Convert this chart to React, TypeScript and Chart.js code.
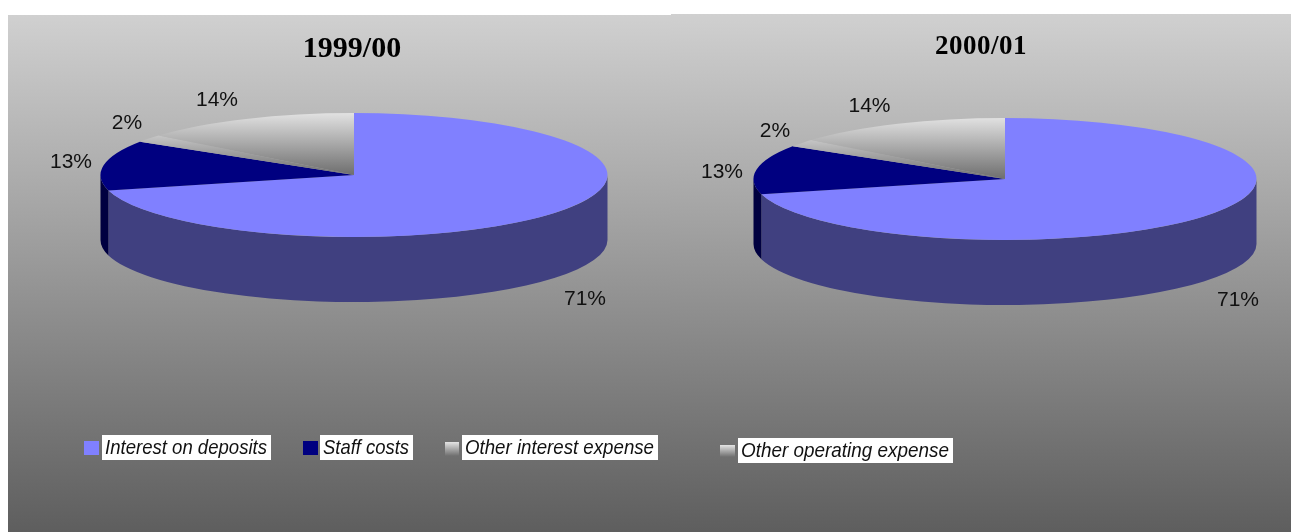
import React, { useEffect, useRef } from "react";
import { Chart, registerables } from "chart.js";

Chart.register(...registerables);

const categories = [
  "Interest on deposits",
  "Staff costs",
  "Other interest expense",
  "Other operating expense",
];
const shares1999 = [71, 13, 2, 14];
const shares2000 = [71, 13, 2, 14];

const topColors = ["#8080ff", "#000080", null, null];
const wallColors = ["#404080", "#000040", "#606060", "#606060"];

type Panel = {
  title: string;
  values: number[];
  left: number;
  top: number;
  width: number;
  height: number;
  cx: number;
  cy: number;
  rx: number;
  ry: number;
  depth: number;
  titleX: number;
  titleY: number;
  titleFont: string;
  titleSpacing: string;
  labelAt: [number, number][];
  legend: { index: number; swatch: number[]; box: number[] }[];
};

const panels: Panel[] = [
  {
    title: "1999/00",
    values: shares1999,
    left: 8,
    top: 15,
    width: 663,
    height: 517,
    cx: 354,
    cy: 175,
    rx: 253.5,
    ry: 62,
    depth: 65,
    titleX: 352,
    titleY: 57,
    titleFont: "bold 30px 'Liberation Serif'",
    titleSpacing: "0px",
    labelAt: [
      [585, 299],
      [71, 162],
      [127, 123],
      [217, 100],
    ],
    legend: [
      { index: 0, swatch: [84, 441, 15, 14], box: [102, 435, 169, 25] },
      { index: 1, swatch: [303, 441, 15, 14], box: [320, 435, 93, 25] },
      { index: 2, swatch: [445, 442, 14, 14], box: [462, 435, 196, 25] },
    ],
  },
  {
    title: "2000/01",
    values: shares2000,
    left: 671,
    top: 14,
    width: 620,
    height: 518,
    cx: 1005,
    cy: 179,
    rx: 251.5,
    ry: 61,
    depth: 65,
    titleX: 981,
    titleY: 54,
    titleFont: "bold 27px 'Liberation Serif'",
    titleSpacing: "0.5px",
    labelAt: [
      [1238, 300],
      [722, 172],
      [775, 131],
      [869.5, 106],
    ],
    legend: [{ index: 3, swatch: [720, 445, 15, 12], box: [738, 438, 215, 25] }],
  },
];

const greyStops = (g: CanvasGradient) => {
  g.addColorStop(0, "#e4e4e4");
  g.addColorStop(1, "#6e6e6e");
  return g;
};

// Grey slices shade from just above their rim down to the hub of the pie.
function sliceFill(ctx: any, i: number) {
  const fixed = topColors[i];
  if (fixed) return fixed;
  const chart = ctx.chart;
  const area = chart.chartArea;
  if (!area) return "#aaaaaa";
  const values = chart.data.datasets[0].data as number[];
  const total = values.reduce((a, b) => a + b, 0);
  const before = values.slice(0, i).reduce((a, b) => a + b, 0);
  const a0 = (before / total) * 2 * Math.PI - Math.PI / 2;
  const a1 = ((before + values[i]) / total) * 2 * Math.PI - Math.PI / 2;
  const midY = (area.top + area.bottom) / 2;
  const r = Math.min(area.width, area.height) / 2;
  const rise = Math.min(1, Math.max(-Math.sin(a0), -Math.sin(a1), 0) + 0.2);
  return greyStops(chart.ctx.createLinearGradient(0, midY - r * rise, 0, midY));
}

function makePlugin(p: Panel) {
  return {
    id: "tiltedPie",
    beforeDraw(chart: any) {
      const { ctx } = chart;
      const g = ctx.createLinearGradient(0, 0, 0, p.height);
      g.addColorStop(0, "#d0d0d0");
      g.addColorStop(1, "#5e5e5e");
      ctx.save();
      ctx.fillStyle = g;
      ctx.fillRect(0, 0, p.width, p.height);
      ctx.restore();
    },
    beforeDatasetsDraw(chart: any) {
      const { ctx } = chart;
      const arcs = chart.getDatasetMeta(0).data;
      const x0 = p.cx - p.left;
      const y0 = p.cy - p.top;
      // Side wall: only the part of each slice that faces the viewer.
      arcs.forEach((arc: any, i: number) => {
        const { startAngle, endAngle } = arc.getProps(["startAngle", "endAngle"]);
        const a = Math.max(startAngle, 0);
        const b = Math.min(endAngle, Math.PI);
        if (b <= a) return;
        ctx.beginPath();
        ctx.ellipse(x0, y0, p.rx, p.ry, 0, a, b, false);
        ctx.ellipse(x0, y0 + p.depth, p.rx, p.ry, 0, b, a, true);
        ctx.closePath();
        ctx.fillStyle = wallColors[i];
        ctx.fill();
      });
      // The pie itself is drawn by the library, flattened onto the top face.
      const first = arcs[0];
      ctx.save();
      ctx.translate(x0, y0);
      ctx.scale(1, p.ry / p.rx);
      ctx.translate(-first.x, -first.y);
    },
    afterDatasetsDraw(chart: any) {
      const { ctx } = chart;
      ctx.restore();
      ctx.save();
      ctx.translate(-p.left, -p.top);

      ctx.fillStyle = "#000000";
      ctx.textAlign = "center";
      ctx.textBaseline = "alphabetic";
      ctx.font = p.titleFont;
      ctx.letterSpacing = p.titleSpacing;
      ctx.fillText(p.title, p.titleX, p.titleY);
      ctx.letterSpacing = "0px";

      ctx.textBaseline = "middle";
      ctx.font = "21px 'Liberation Sans'";
      ctx.fillStyle = "#111111";
      p.values.forEach((v, i) => {
        const [x, y] = p.labelAt[i];
        ctx.fillText(`${v}%`, x, y);
      });

      ctx.textAlign = "left";
      ctx.font = "italic 21px 'Liberation Sans'";
      p.legend.forEach(({ index, swatch, box }) => {
        const [sx, sy, sw, sh] = swatch;
        const fixed = topColors[index];
        ctx.fillStyle = fixed || greyStops(ctx.createLinearGradient(0, sy, 0, sy + sh));
        ctx.fillRect(sx, sy, sw, sh);
        const [bx, by, bw, bh] = box;
        ctx.fillStyle = "#ffffff";
        ctx.fillRect(bx, by, bw, bh);
        ctx.fillStyle = "#111111";
        ctx.fillText(categories[index], bx + 3, by + bh / 2 + 1, bw - 7);
      });
      ctx.restore();
    },
  };
}

function PiePanel({ panel }: { panel: Panel }) {
  const ref = useRef<HTMLCanvasElement>(null);
  useEffect(() => {
    const radius = panel.rx;
    const centre = panel.cx - panel.left;
    const chart = new Chart(ref.current as HTMLCanvasElement, {
      type: "pie",
      data: {
        labels: categories,
        datasets: [
          {
            data: panel.values,
            backgroundColor: (c: any) => sliceFill(c, c.dataIndex),
            borderWidth: 0,
          },
        ],
      },
      options: {
        responsive: false,
        animation: false,
        radius,
        layout: { padding: { left: Math.max(0, 2 * centre - panel.width) } },
        plugins: { legend: { display: false }, title: { display: false }, tooltip: { enabled: false } },
      } as any,
      plugins: [makePlugin(panel)],
    });
    return () => chart.destroy();
  }, [panel]);
  return (
    <canvas
      ref={ref}
      width={panel.width}
      height={panel.height}
      style={{ position: "absolute", left: panel.left, top: panel.top, display: "block" }}
    />
  );
}

export default function App() {
  return (
    <>
      {panels.map((p) => (
        <PiePanel key={p.title} panel={p} />
      ))}
    </>
  );
}
